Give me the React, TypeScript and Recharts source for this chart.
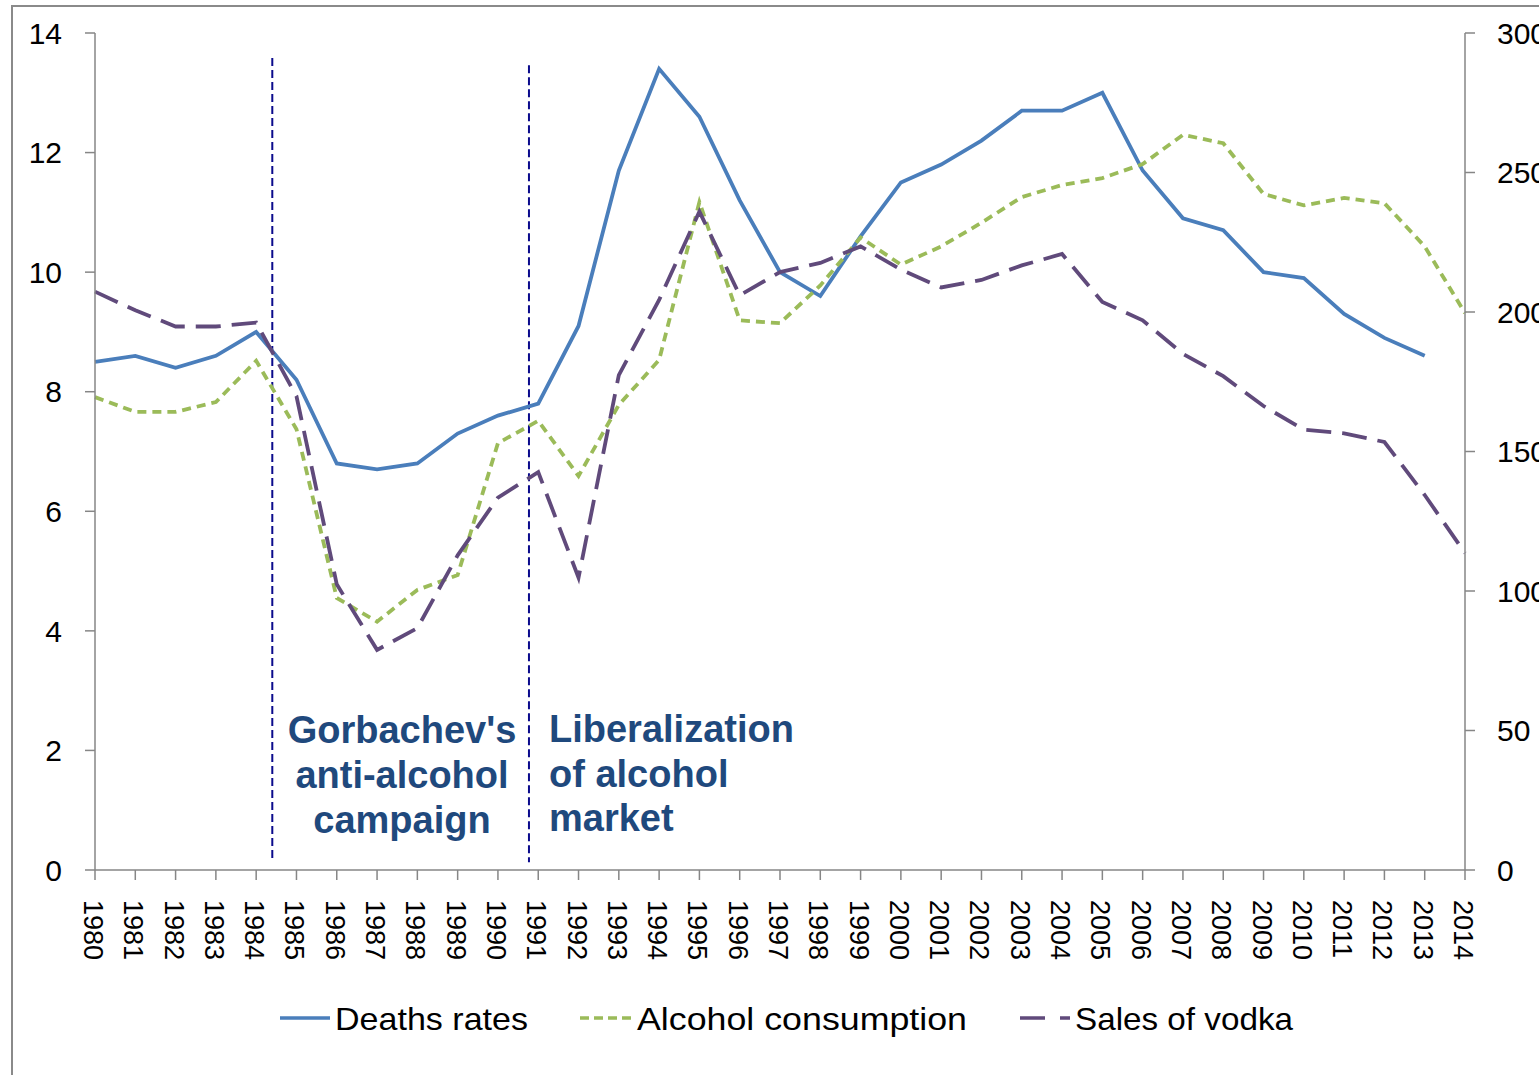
import React from "react";
import { LineChart, Line, XAxis, YAxis, ReferenceLine } from "recharts";

const years = [1980, 1981, 1982, 1983, 1984, 1985, 1986, 1987, 1988, 1989, 1990, 1991, 1992, 1993, 1994, 1995, 1996, 1997, 1998, 1999, 2000, 2001, 2002, 2003, 2004, 2005, 2006, 2007, 2008, 2009, 2010, 2011, 2012, 2013, 2014];

const deathsRates = [8.5, 8.6, 8.4, 8.6, 9.0, 8.2, 6.8, 6.7, 6.8, 7.3, 7.6, 7.8, 9.1, 11.7, 13.4, 12.6, 11.2, 10.0, 9.6, 10.6, 11.5, 11.8, 12.2, 12.7, 12.7, 13.0, 11.7, 10.9, 10.7, 10.0, 9.9, 9.3, 8.9, 8.6, null];

const alcoholConsumption = [169.5, 164.2, 164.2, 167.7, 182.5, 158, 97.5, 89, 100.4, 105.7, 153, 161, 141.2, 166.7, 182.8, 239.4, 197, 196, 209.5, 226.7, 217, 223.5, 232, 241.2, 245.5, 248, 253, 263.5, 260.5, 242.3, 238.2, 240.9, 239, 223.5, 199.6];

const vodkaSales = [207.3, 200.6, 194.8, 194.8, 196.2, 169.8, 102.4, 78.9, 86.7, 112.8, 133.5, 142.6, 104.8, 177.4, 204.3, 236, 206, 214.3, 217.6, 223.5, 215.2, 208.8, 211.5, 216.7, 220.8, 203.6, 197, 185, 177, 166.3, 157.8, 156.5, 153.4, 134.4, 113.6];

const leftTicks = [0, 2, 4, 6, 8, 10, 12, 14];
const rightTicks = [0, 50, 100, 150, 200, 250, 300];

const campaignStart = 1984.4;
const liberalization = 1990.77;

const data = years.map((year, i) => ({
  year,
  deaths: deathsRates[i],
  alcohol: alcoholConsumption[i],
  vodka: vodkaSales[i],
}));

const AXIS = "#868686";
const FONT = "'Liberation Sans', Arial, sans-serif";
const BLUE = "#4A7EBB";
const GREEN = "#9BBB59";
const PURPLE = "#604A7B";
const NAVY = "#0B0B8C";
const ANNOT = "#1F497D";

const YearTick = (props: any) => {
  const { x, y, payload } = props;
  return (
    <g transform={`translate(${x - 2},${y})`}>
      <text
        x={0}
        y={0}
        transform="rotate(90)"
        textAnchor="start"
        dominantBaseline="central"
        fontFamily={FONT}
        fontSize={27}
        fill="#000"
      >
        {payload.value}
      </text>
    </g>
  );
};

export default function App() {
  return (
    <div
      style={{
        position: "absolute",
        left: 0,
        top: 0,
        width: 1539,
        height: 1075,
        overflow: "hidden",
        background: "#fff",
      }}
    >
      <div
        style={{
          position: "absolute",
          left: 11,
          top: 5,
          width: 1700,
          height: 1300,
          border: "2px solid #8a8a8a",
          boxSizing: "border-box",
        }}
      />
      <div style={{ position: "absolute", left: 0, top: 0 }}>
        <LineChart
          width={1539}
          height={1075}
          data={data}
          margin={{ top: 33, right: 0, bottom: 0, left: 0 }}
        >
          <XAxis
            dataKey="year"
            type="number"
            domain={[1980, 2014]}
            ticks={years}
            interval={0}
            height={205}
            stroke={AXIS}
            strokeWidth={1.5}
            tickSize={10}
            tickMargin={20}
            tickLine={{ stroke: AXIS, strokeWidth: 1.5 }}
            tick={<YearTick />}
            allowDecimals={false}
          />
          <YAxis
            yAxisId="left"
            orientation="left"
            domain={[0, 14]}
            ticks={leftTicks}
            width={95}
            stroke={AXIS}
            strokeWidth={1.5}
            tickSize={10}
            tickMargin={23}
            tickLine={{ stroke: AXIS, strokeWidth: 1.5 }}
            tick={{ fill: "#000", fontSize: 30, fontFamily: FONT }}
          />
          <YAxis
            yAxisId="right"
            orientation="right"
            domain={[0, 300]}
            ticks={rightTicks}
            width={74}
            stroke={AXIS}
            strokeWidth={1.5}
            tickSize={10}
            tickMargin={22}
            tickLine={{ stroke: AXIS, strokeWidth: 1.5 }}
            tick={{ fill: "#000", fontSize: 30, fontFamily: FONT, textAnchor: "start" }}
          />
          <ReferenceLine
            yAxisId="left"
            segment={[
              { x: campaignStart, y: 13.58 },
              { x: campaignStart, y: 0.2 },
            ]}
            stroke={NAVY}
            strokeWidth={2}
            strokeDasharray="8 4"
          />
          <ReferenceLine
            yAxisId="left"
            segment={[
              { x: liberalization, y: 13.46 },
              { x: liberalization, y: 0.13 },
            ]}
            stroke={NAVY}
            strokeWidth={2}
            strokeDasharray="8 4"
          />
          <Line
            yAxisId="left"
            type="linear"
            dataKey="deaths"
            stroke={BLUE}
            strokeWidth={3.8}
            dot={false}
            isAnimationActive={false}
            connectNulls={false}
          />
          <Line
            yAxisId="right"
            type="linear"
            dataKey="alcohol"
            stroke={GREEN}
            strokeWidth={3.8}
            strokeDasharray="9 6"
            strokeLinecap="butt"
            dot={false}
            isAnimationActive={false}
          />
          <Line
            yAxisId="right"
            type="linear"
            dataKey="vodka"
            stroke={PURPLE}
            strokeWidth={3.8}
            strokeDasharray="25 11"
            dot={false}
            isAnimationActive={false}
          />
        </LineChart>
      </div>
      <svg
        width={1539}
        height={1075}
        style={{ position: "absolute", left: 0, top: 0, pointerEvents: "none" }}
      >
        <g fontFamily={FONT} fontWeight="bold" fontSize={38} fill={ANNOT}>
          <text x={402} y={743} textAnchor="middle">Gorbachev's</text>
          <text x={402} y={788} textAnchor="middle">anti-alcohol</text>
          <text x={402} y={833} textAnchor="middle">campaign</text>
          <text x={549} y={742}>Liberalization</text>
          <text x={549} y={787}>of alcohol</text>
          <text x={549} y={831}>market</text>
        </g>
        <g fontFamily={FONT} fontSize={32} fill="#000">
          <line x1={280} y1={1018} x2={330} y2={1018} stroke={BLUE} strokeWidth={3.5} />
          <text x={335} y={1030} textLength={193} lengthAdjust="spacingAndGlyphs">Deaths rates</text>
          <line x1={580} y1={1018} x2={632} y2={1018} stroke={GREEN} strokeWidth={3.5} strokeDasharray="9 5" />
          <text x={637} y={1030} textLength={330} lengthAdjust="spacingAndGlyphs">Alcohol consumption</text>
          <line x1={1020} y1={1018} x2={1070} y2={1018} stroke={PURPLE} strokeWidth={3.5} strokeDasharray="25 15" />
          <text x={1075} y={1030} textLength={218} lengthAdjust="spacingAndGlyphs">Sales of vodka</text>
        </g>
      </svg>
    </div>
  );
}
